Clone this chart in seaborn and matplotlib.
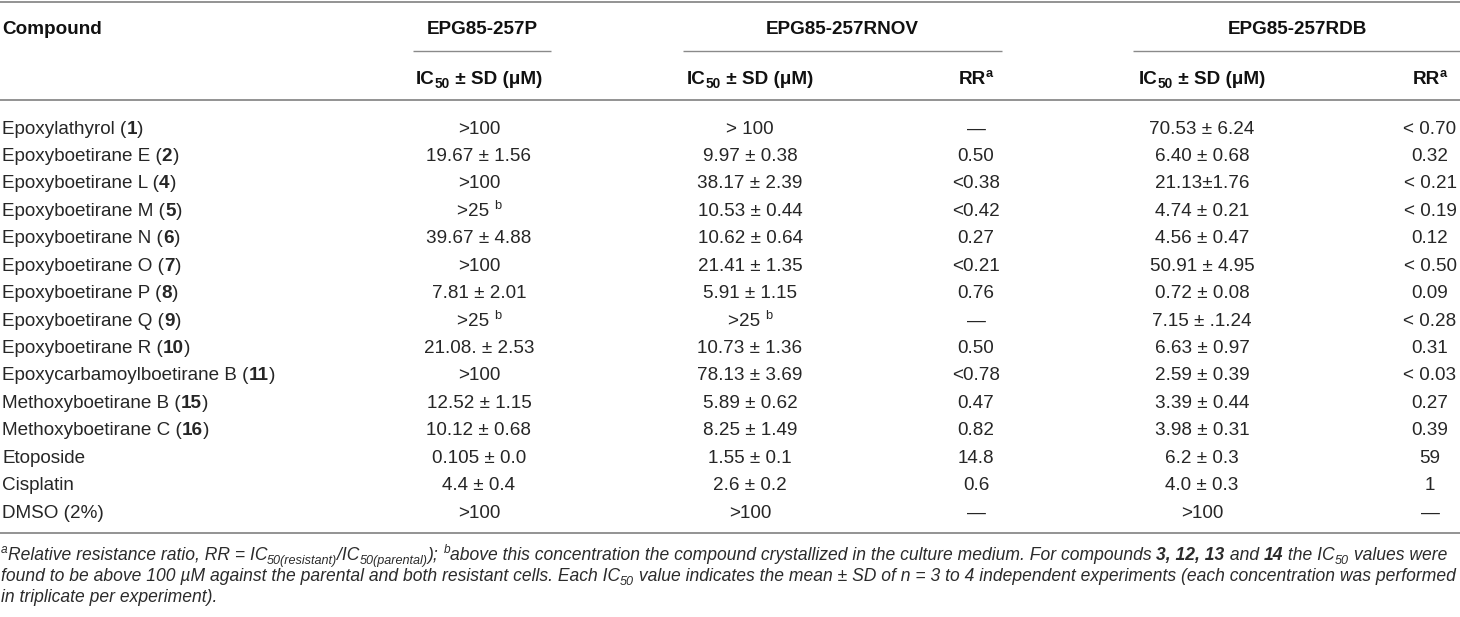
import numpy as np
import pandas as pd
import seaborn as sns
import matplotlib

matplotlib.use('Agg')
import matplotlib.pyplot as plt
from matplotlib import font_manager

# tablo verileri
compounds = ["Epoxylathyrol", "Epoxyboetirane E", "Epoxyboetirane L", "Epoxyboetirane M",
             "Epoxyboetirane N", "Epoxyboetirane O", "Epoxyboetirane P", "Epoxyboetirane Q",
             "Epoxyboetirane R", "Epoxycarbamoylboetirane B", "Methoxyboetirane B",
             "Methoxyboetirane C", "Etoposide", "Cisplatin", "DMSO (2%)"]
compound_ids = ["1", "2", "4", "5", "6", "7", "8", "9", "10", "11", "15", "16", "", "", ""]
ic50_p = [">100", "19.67 ± 1.56", ">100", ">25 ^b", "39.67 ± 4.88", ">100", "7.81 ± 2.01",
          ">25 ^b", "21.08. ± 2.53", ">100", "12.52 ± 1.15", "10.12 ± 0.68", "0.105 ± 0.0",
          "4.4 ± 0.4", ">100"]
ic50_rnov = ["> 100", "9.97 ± 0.38", "38.17 ± 2.39", "10.53 ± 0.44", "10.62 ± 0.64",
             "21.41 ± 1.35", "5.91 ± 1.15", ">25 ^b", "10.73 ± 1.36", "78.13 ± 3.69",
             "5.89 ± 0.62", "8.25 ± 1.49", "1.55 ± 0.1", "2.6 ± 0.2", ">100"]
rr_rnov = ["—", "0.50", "<0.38", "<0.42", "0.27", "<0.21", "0.76", "—", "0.50", "<0.78",
           "0.47", "0.82", "14.8", "0.6", "—"]
ic50_rdb = ["70.53 ± 6.24", "6.40 ± 0.68", "21.13±1.76", "4.74 ± 0.21", "4.56 ± 0.47",
            "50.91 ± 4.95", "0.72 ± 0.08", "7.15 ± .1.24", "6.63 ± 0.97", "2.59 ± 0.39",
            "3.39 ± 0.44", "3.98 ± 0.31", "6.2 ± 0.3", "4.0 ± 0.3", ">100"]
rr_rdb = ["< 0.70", "0.32", "< 0.21", "< 0.19", "0.12", "< 0.50", "0.09", "< 0.28", "0.31",
          "< 0.03", "0.27", "0.39", "59", "1", "—"]
cell_lines = ["EPG85-257P", "EPG85-257RNOV", "EPG85-257RDB"]

df = pd.DataFrame({"compound": compounds, "id": compound_ids, "p": ic50_p,
                   "rnov": ic50_rnov, "rnov_rr": rr_rnov, "rdb": ic50_rdb, "rdb_rr": rr_rdb})

sns.set_theme(style="white")
names = {f.name for f in font_manager.fontManager.ttflist}
FONT = "Liberation Sans" if "Liberation Sans" in names else "DejaVu Sans"
NARROW = "Liberation Sans Narrow" if "Liberation Sans Narrow" in names else FONT
plt.rcParams['font.family'] = [FONT, 'DejaVu Sans']

fig = plt.figure(figsize=(14.6, 6.17), dpi=100)
ax = fig.add_axes([0, 0, 1, 1])
ax.set_xlim(0, 1460)
ax.set_ylim(617, 0)
ax.axis('off')
renderer = fig.canvas.get_renderer()

SIZE = 13.6
BODY = "#262626"
HEAD = "#111111"
RULE = "#8a8a8a"

N = dict()
B = dict(weight="bold")
I = dict(style="italic")
BI = dict(weight="bold", style="italic")
SUB = dict(scale=0.72, dy=4)
SUP = dict(scale=0.68, dy=-7)


def _width(txt, size, weight, style, family):
    t1 = ax.text(0, 0, txt + "|", fontsize=size, fontweight=weight, fontstyle=style, family=family)
    t2 = ax.text(0, 0, "|", fontsize=size, fontweight=weight, fontstyle=style, family=family)
    w = t1.get_window_extent(renderer).width - t2.get_window_extent(renderer).width
    t1.remove()
    t2.remove()
    return w


def draw_runs(x, y, runs, ha="left", size=SIZE, color=BODY, family=FONT, draw=True):
    items = []
    for txt, opt in runs:
        s = size * opt.get("scale", 1)
        wt = opt.get("weight", "normal")
        st = opt.get("style", "normal")
        items.append((txt, s, wt, st, opt.get("dy", 0), _width(txt, s, wt, st, family)))
    total = sum(it[-1] for it in items)
    if not draw:
        return total
    x0 = x - total / 2 if ha == "center" else (x - total if ha == "right" else x)
    for txt, s, wt, st, dy, w in items:
        ax.text(x0, y + dy, txt, fontsize=s, fontweight=wt, fontstyle=st, family=family,
                color=color, va="baseline", ha="left")
        x0 += w
    return total


def value_runs(s, base=N):
    if "^" in s:
        main, sup = s.split("^")
        return [(main, base), (sup, SUP)]
    return [(s, base)]


# sütun konumları
col_x = {"p": 479, "rnov": 750, "rnov_rr": 976, "rdb": 1202, "rdb_rr": 1430}
group_x = [482, 842, 1297]
group_span = [(413, 551), (683, 1002), (1133, 1460)]
cap = 6.6

# yatay çizgiler
ax.hlines([1.5, 100, 533], 0, 1460, color=RULE, lw=1.3)
for x0, x1 in group_span:
    ax.hlines(51, x0, x1, color=RULE, lw=1.0)

# başlıklar
draw_runs(2, 27 + cap, [("Compound", B)], color=HEAD)
for name, gx in zip(cell_lines, group_x):
    draw_runs(gx, 27 + cap, [(name, B)], ha="center", color=HEAD)
ic_head = [("IC", B), ("50", dict(SUB, weight="bold")), (" ± SD (μM)", B)]
rr_head = [("RR", B), ("a", dict(SUP, weight="bold"))]
for key in ["p", "rnov", "rdb"]:
    draw_runs(col_x[key], 77 + cap, ic_head, ha="center", color=HEAD)
for key in ["rnov_rr", "rdb_rr"]:
    draw_runs(col_x[key], 77 + cap, rr_head, ha="center", color=HEAD)

# satırlar
row_y = 127 + np.arange(len(df)) * 27.43
for yy, (_, row) in zip(row_y, df.iterrows()):
    yb = yy + cap
    if row["id"]:
        runs = [(row["compound"] + " (", N), (row["id"], B), (")", N)]
    else:
        runs = [(row["compound"], N)]
    draw_runs(2, yb, runs)
    for key in col_x:
        draw_runs(col_x[key], yb, value_runs(row[key]), ha="center")

# dipnot
foot_lines = [
    [("a", dict(SUP, style="italic")), ("Relative resistance ratio, RR = IC", I),
     ("50(resistant)", dict(SUB, style="italic")), ("/IC", I),
     ("50(parental)", dict(SUB, style="italic")), ("); ", I), ("b", dict(SUP, style="italic")),
     ("above this concentration the compound crystallized in the culture medium. For compounds ", I),
     ("3, 12, 13", BI), (" and ", I), ("14", BI), (" the IC", I),
     ("50", dict(SUB, style="italic")), (" values were", I)],
    [("found to be above 100 µM against the parental and both resistant cells. Each IC", I),
     ("50", dict(SUB, style="italic")),
     (" value indicates the mean ± SD of n = 3 to 4 independent experiments (each concentration was performed", I)],
    [("in triplicate per experiment).", I)],
]
w10 = draw_runs(0, 0, foot_lines[0], size=10, family=NARROW, draw=False)
foot_size = 10 * 1456 / w10
for yy, runs in zip([555, 576, 597], foot_lines):
    draw_runs(1, yy + 5, runs, size=foot_size, family=NARROW, color="#2b2b2b")

plt.savefig("out.png", dpi=100)
